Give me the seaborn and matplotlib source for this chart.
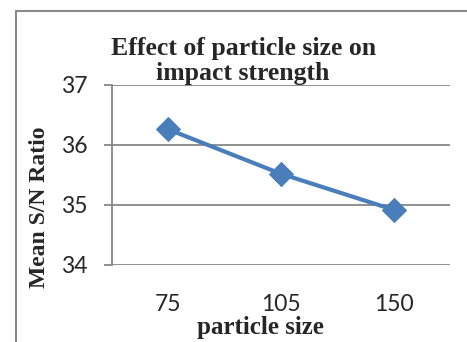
import matplotlib
matplotlib.use("Agg")
import matplotlib.pyplot as plt
import seaborn as sns
import pandas as pd
from matplotlib.lines import Line2D

particle_size = ["75", "105", "150"]
mean_sn = [36.26, 35.52, 34.92]
y_ticks = [34, 35, 36, 37]

sns.set_style("white")
plt.rcParams['font.family'] = ['Liberation Serif', 'DejaVu Serif']

df = pd.DataFrame({"particle size": particle_size, "Mean S/N Ratio": mean_sn})

W, H = 467, 342
fig = plt.figure(figsize=(W/100, H/100), dpi=100)
ax = fig.add_axes([112/W, 1-265/H, 338/W, 180/H])

sns.lineplot(data=df, x="particle size", y="Mean S/N Ratio", ax=ax,
             color="#4A7EBB", linewidth=3.0, marker="D", markersize=12.5,
             markeredgecolor="#4A7EBB", sort=False)

ax.set_xlim(-0.5, 2.5)
ax.set_ylim(34, 37)
ax.set_yticks(y_ticks)
ax.yaxis.grid(True, color="#878787", linewidth=1.3)
ax.set_axisbelow(True)
for s in ["top", "right", "bottom"]:
    ax.spines[s].set_visible(False)
ax.spines["left"].set_color("#878787")
ax.spines["left"].set_linewidth(1.3)
ax.tick_params(axis="y", left=True, length=5.8, width=1.3, color="#878787",
               pad=12, labelsize=16.5)
ax.tick_params(axis="x", bottom=False, length=0, pad=21, labelsize=16.5)
for lab in ax.get_xticklabels() + ax.get_yticklabels():
    lab.set_fontfamily(["Lato", "DejaVu Sans"])

ax.set_xlabel("")
ax.set_ylabel("")
fig.text(260/W, 1-334/H, "particle size", ha="center", va="baseline",
         fontsize=18, fontweight="bold")
fig.text(40/W, 1-207/H, "Mean S/N Ratio", ha="center", va="center",
         rotation=90, fontsize=17, fontweight="bold")

fig.text(244/W, 1-55/H, "Effect of particle size on", ha="center",
         va="baseline", fontsize=18.5, fontweight="bold")
fig.text(243/W, 1-80/H, "impact strength", ha="center",
         va="baseline", fontsize=18.5, fontweight="bold")

fig.add_artist(Line2D([16/W, 16/W], [0, 1-11/H], transform=fig.transFigure,
                      color="#888888", linewidth=1.5))
fig.add_artist(Line2D([16/W, 1], [1-11/H, 1-11/H], transform=fig.transFigure,
                      color="#888888", linewidth=1.5))

fig.savefig("out.png", dpi=100)
